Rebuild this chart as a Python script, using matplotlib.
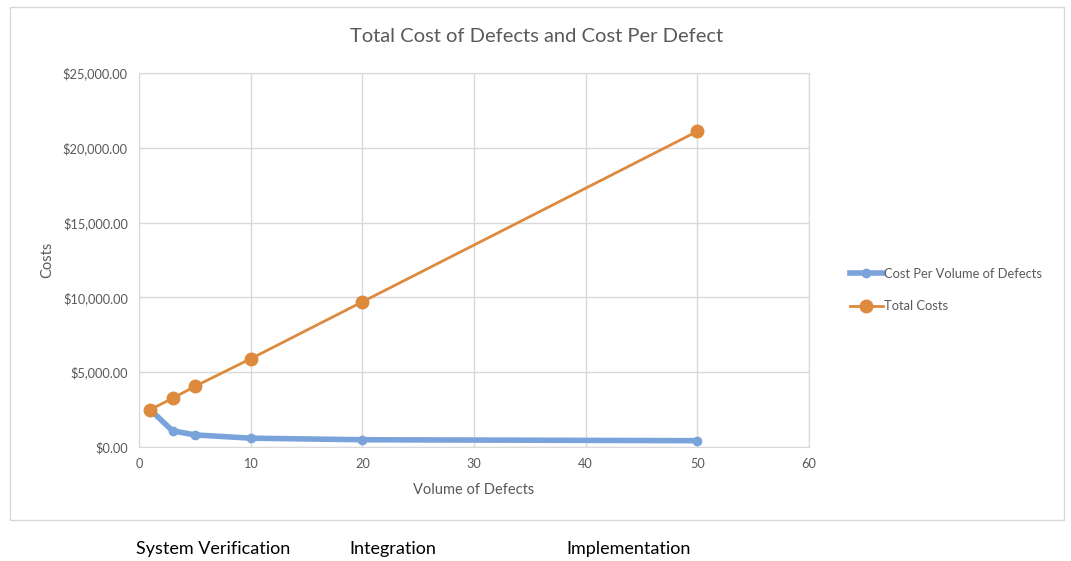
import matplotlib.pyplot as plt
from matplotlib.patches import Rectangle
from matplotlib.ticker import FuncFormatter

plt.rcParams['font.family'] = ['Lato', 'DejaVu Sans']

volume = [1, 3, 5, 10, 20, 50]
total_costs = [2500, 3250, 4050, 5900, 9700, 21100]
cost_per_defect = [2500, 1083, 810, 590, 485, 422]
phases = ["System Verification", "Integration", "Implementation"]

grey = "#595959"
grid = "#d9d9d9"

fig = plt.figure(figsize=(10.71, 5.61), dpi=100)
fig.patches.append(Rectangle((10 / 1071, 1 - 520 / 561), 1054 / 1071, 513 / 561,
                             transform=fig.transFigure, fill=False,
                             edgecolor=grid, linewidth=1))

ax = fig.add_axes([139 / 1071, 1 - 447 / 561, 670 / 1071, 374 / 561])
ax.plot(volume, cost_per_defect, color="#7aa2db", linewidth=4, marker="o",
        markersize=6, label="Cost Per Volume of Defects", zorder=3)
ax.plot(volume, total_costs, color="#dd8a3e", linewidth=2, marker="o",
        markersize=9, label="Total Costs", zorder=4)

ax.set_xlim(0, 60)
ax.set_ylim(0, 25000)
ax.set_xticks(range(0, 61, 10))
ax.set_yticks(range(0, 25001, 5000))
ax.yaxis.set_major_formatter(FuncFormatter(lambda v, p: "${:,.2f}".format(v)))
ax.grid(True, color=grid, linewidth=1)
ax.set_axisbelow(True)
for s in ax.spines.values():
    s.set_color(grid)
ax.tick_params(length=0, colors=grey, labelsize=9.2, pad=8)

fig.text(537 / 1071, 1 - 36 / 561, "Total Cost of Defects and Cost Per Defect",
         color=grey, fontsize=14.5, ha="center", va="center")
ax.set_xlabel("Volume of Defects", color=grey, fontsize=10.5, labelpad=9)
ax.set_ylabel("Costs", color=grey, fontsize=10.5, labelpad=6)

fig.legend(loc="center left", bbox_to_anchor=(838 / 1071, 1 - 290 / 561),
           frameon=False, fontsize=9.3, handlelength=2.6, labelspacing=1.6,
           handletextpad=0.05, labelcolor=grey)

for name, x in zip(phases, [136, 349, 566]):
    fig.text(x / 1071, 1 - 549 / 561, name, fontsize=13, color="black",
             va="center", ha="left")

fig.savefig("out.png", dpi=100, facecolor="white")
